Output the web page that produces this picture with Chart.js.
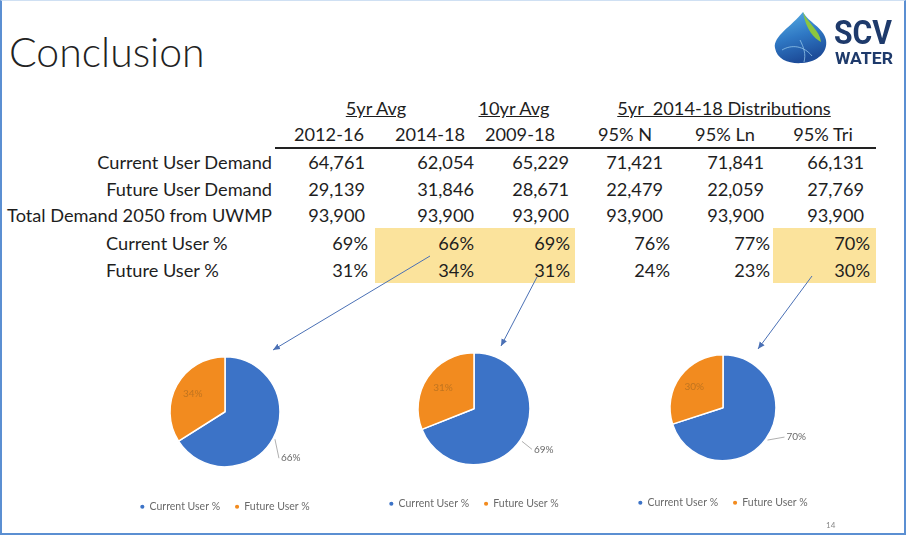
<!DOCTYPE html>
<html>
<head>
<meta charset="utf-8">
<script src="https://cdn.jsdelivr.net/npm/chart.js@4"></script>
<style>
  body { margin: 0; background: #fff; }
  #slide { position: relative; width: 906px; height: 537px; overflow: hidden; font-family: Lato, "Open Sans", sans-serif; color: #1e1e1e; background: #fff; }
  #frame { position: absolute; left: 0; top: 0; width: 902px; height: 532px; border: 2px solid #5b8fd2; border-top: 1px solid #cfe0f3; }
  .t { position: absolute; white-space: nowrap; font-size: 18.2px; line-height: 20px; }
  .hl { position: absolute; background: #fbe39c; }
  .pie { position: absolute; }
</style>
</head>
<body>
<div id="slide">
  <div id="frame"></div>
  <div class="t" style="left:9px;top:28px;font-size:41px;line-height:48px;font-weight:300;color:#222;">Conclusion</div>
  <div class="hl" style="left:375px;top:228px;width:200px;height:55px;"></div>
  <div class="hl" style="left:773px;top:228px;width:103px;height:55px;"></div>
  <div id="table"></div>
  <div style="position:absolute;left:275px;top:147px;width:601px;height:2px;background:#222;"></div>
  <canvas class="pie" id="pie0" width="240" height="210"></canvas>
  <canvas class="pie" id="pie1" width="240" height="210"></canvas>
  <canvas class="pie" id="pie2" width="240" height="210"></canvas>
  <svg style="position:absolute;left:0;top:0;" width="906" height="537">
    <defs>
      <marker id="ah" markerWidth="8" markerHeight="8" refX="7" refY="4" orient="auto" markerUnits="userSpaceOnUse">
        <path d="M0,1 L7,4 L0,7 Z" fill="#4a70b5"/>
      </marker>
      <linearGradient id="drop" x1="0" y1="0" x2="0.3" y2="1">
        <stop offset="0" stop-color="#5ab2e6"/>
        <stop offset="0.55" stop-color="#2f78c4"/>
        <stop offset="1" stop-color="#1d4d9a"/>
      </linearGradient>
    </defs>
    <line x1="430" y1="256" x2="273" y2="350" stroke="#4a70b5" stroke-width="1" marker-end="url(#ah)"/>
    <line x1="537" y1="277" x2="501" y2="346" stroke="#4a70b5" stroke-width="1" marker-end="url(#ah)"/>
    <line x1="812" y1="276" x2="758" y2="349" stroke="#4a70b5" stroke-width="1" marker-end="url(#ah)"/>
    <path d="M803,12 C792,26 773,36 775,48 C777,60 790,64 802,63 C818,62 828,52 826,40 C824,28 808,22 803,12 Z" fill="url(#drop)"/>
    <path d="M803,12 C808,24 820,30 821,42 C814,38 806,30 803,12 Z" fill="#8cc63f"/>
    <path d="M782,50 C792,44 804,46 812,56 M800,40 C804,48 806,54 804,62" stroke="#9fd0f0" stroke-width="1" fill="none" opacity="0.7"/>
    <text x="834" y="44" font-family="Roboto, sans-serif" font-weight="bold" font-size="34" fill="#1e3a6b" textLength="58" lengthAdjust="spacingAndGlyphs">SCV</text>
    <text x="835" y="64" font-family="Roboto, sans-serif" font-weight="bold" font-size="17" fill="#1e3a6b" textLength="58" lengthAdjust="spacingAndGlyphs">WATER</text>
    <text x="826" y="528" font-family="Lato, sans-serif" font-size="8" fill="#888">14</text>
  </svg>
</div>
<script>
// table data
const groupHeaders = ['5yr Avg', '10yr Avg', '5yr  2014-18 Distributions'];
const periods = ['2012-16', '2014-18', '2009-18', '95% N', '95% Ln', '95% Tri'];
const rowLabels = ['Current User Demand', 'Future User Demand', 'Total Demand 2050 from UWMP', 'Current User %', 'Future User %'];
const currentDemand = [64761, 62054, 65229, 71421, 71841, 66131];
const futureDemand = [29139, 31846, 28671, 22479, 22059, 27769];
const totalDemand = [93900, 93900, 93900, 93900, 93900, 93900];
const currentPct = [69, 66, 69, 76, 77, 70];
const futurePct = [31, 34, 31, 24, 23, 30];

// pies: which columns get a pie
const pieSeries = ['Current User %', 'Future User %'];
const pieColumns = [1, 2, 5];

// layout (pixels)
const groupCenters = [376, 514, 724];
const headerCenters = [329, 430, 520, 625, 725, 823];
const numRight = [365, 474, 569, 663, 764, 864];
const pctRight = [368, 474, 570, 670, 770, 870];
const rowY = [162, 189, 215, 243, 270];
const pieCenters = [[225, 412, 55], [474, 409, 56], [723, 408, 53]];
const outerLabelShift = [[6, 19], [12, 8], [19, -3]];

const table = document.getElementById('table');
function addText(txt, x, y, align, extra) {
  const d = document.createElement('div');
  d.className = 't';
  d.textContent = txt;
  d.style.top = (y - 10) + 'px';
  if (align === 'right') d.style.right = (906 - x) + 'px';
  else if (align === 'center') { d.style.left = x + 'px'; d.style.transform = 'translateX(-50%)'; }
  else d.style.left = x + 'px';
  if (extra) Object.assign(d.style, extra);
  table.appendChild(d);
}

groupHeaders.forEach((g, i) => addText(g, groupCenters[i], 108, 'center', { textDecoration: 'underline', whiteSpace: 'pre' }));
periods.forEach((p, i) => addText(p, headerCenters[i], 134, 'center'));
addText(rowLabels[0], 272, rowY[0], 'right');
addText(rowLabels[1], 272, rowY[1], 'right');
addText(rowLabels[2], 272, rowY[2], 'right');
addText(rowLabels[3], 106, rowY[3], 'left');
addText(rowLabels[4], 106, rowY[4], 'left');
const fmt = v => v.toLocaleString('en-US');
periods.forEach((p, i) => {
  addText(fmt(currentDemand[i]), numRight[i], rowY[0], 'right');
  addText(fmt(futureDemand[i]), numRight[i], rowY[1], 'right');
  addText(fmt(totalDemand[i]), numRight[i], rowY[2], 'right');
  addText(currentPct[i] + '%', pctRight[i], rowY[3], 'right');
  addText(futurePct[i] + '%', pctRight[i], rowY[4], 'right');
});

// slice labels: future inside, current outside with a leader line
const sliceLabels = {
  id: 'sliceLabels',
  afterDatasetsDraw(chart, args, opts) {
    const ctx = chart.ctx;
    const meta = chart.getDatasetMeta(0);
    const vals = chart.data.datasets[0].data;
    ctx.save();
    ctx.font = '10px Lato, sans-serif';
    ctx.textBaseline = 'middle';
    meta.data.forEach((arc, i) => {
      const p = arc.getProps(['x', 'y', 'startAngle', 'endAngle', 'outerRadius'], true);
      const mid = (p.startAngle + p.endAngle) / 2;
      const txt = vals[i] + '%';
      if (i === 1) {
        ctx.fillStyle = '#c0741f';
        ctx.textAlign = 'center';
        ctx.fillText(txt, p.x + Math.cos(mid) * p.outerRadius * 0.67, p.y + Math.sin(mid) * p.outerRadius * 0.67);
      } else {
        const ex = p.x + Math.cos(mid) * (p.outerRadius + 2);
        const ey = p.y + Math.sin(mid) * (p.outerRadius + 2);
        const tx = ex + opts.shift[0], ty = ey + opts.shift[1];
        ctx.strokeStyle = '#9a9a9a';
        ctx.lineWidth = 0.8;
        ctx.beginPath();
        ctx.moveTo(ex, ey);
        ctx.lineTo(tx - 2, ty);
        ctx.stroke();
        ctx.fillStyle = '#6a6a6a';
        ctx.textAlign = 'left';
        ctx.fillText(txt, tx, ty);
      }
    });
    ctx.restore();
  }
};

pieColumns.forEach((col, k) => {
  const [cx, cy, r] = pieCenters[k];
  const cv = document.getElementById('pie' + k);
  cv.style.left = (cx - 120) + 'px';
  cv.style.top = (cy - 100) + 'px';
  new Chart(cv, {
    type: 'pie',
    data: {
      labels: pieSeries,
      datasets: [{
        data: [currentPct[col], futurePct[col]],
        backgroundColor: ['#3c73c7', '#f28b1f'],
        borderColor: '#ffffff',
        borderWidth: 1.5,
        radius: r,
        hoverOffset: 0
      }]
    },
    options: {
      responsive: false,
      animation: false,
      layout: { padding: { top: 25, bottom: 0 } },
      plugins: {
        legend: {
          position: 'bottom',
          labels: {
            usePointStyle: true,
            pointStyle: 'circle',
            boxWidth: 4,
            boxHeight: 4,
            padding: 15,
            color: '#6a6a6a',
            font: { size: 10.5, family: 'Lato, sans-serif' }
          }
        },
        tooltip: { enabled: false },
        sliceLabels: { shift: outerLabelShift[k] }
      }
    },
    plugins: [sliceLabels]
  });
});
</script>
</body>
</html>
